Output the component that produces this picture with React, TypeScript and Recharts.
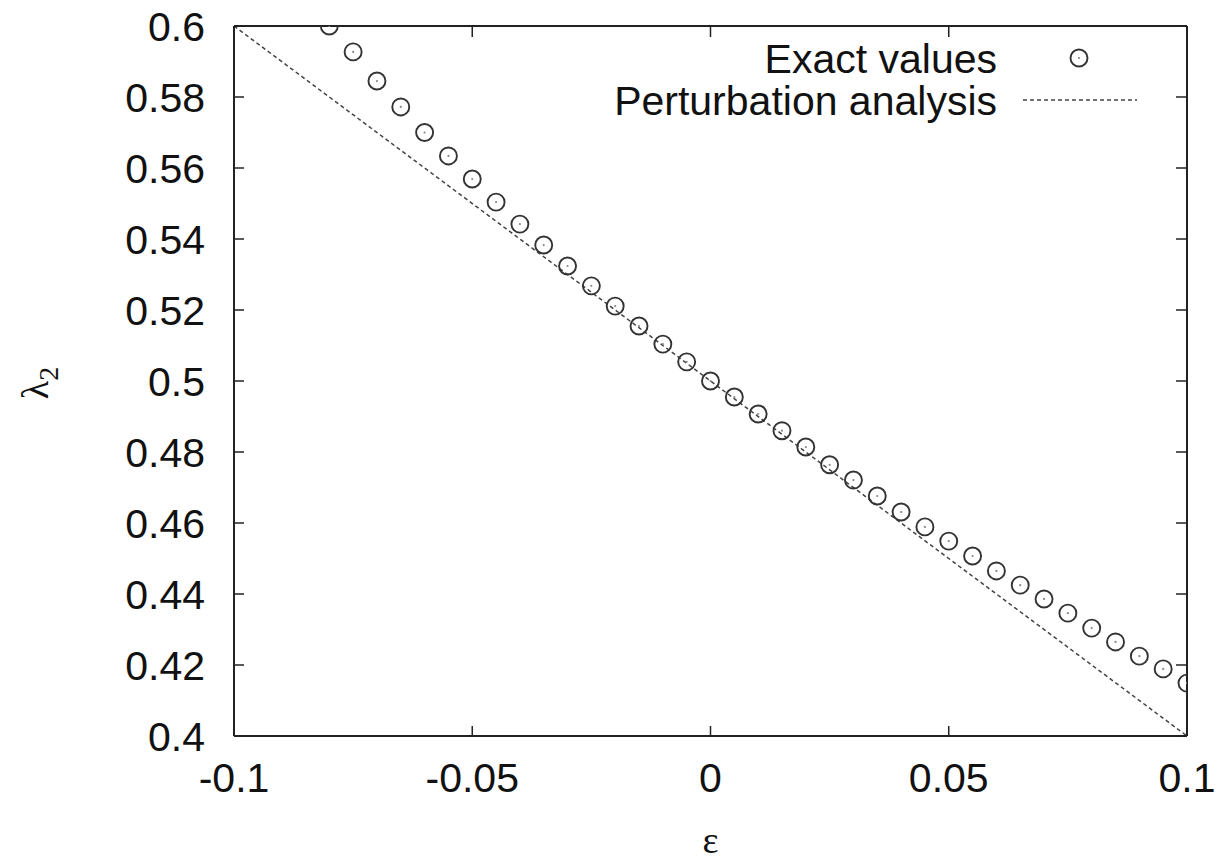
import React from 'react';
import {
  ComposedChart, Line, Scatter, XAxis, YAxis, Legend,
} from 'recharts';

// epsilon values of the exact solution
const epsValues = [
  -0.08, -0.075, -0.07, -0.065, -0.06, -0.055, -0.05, -0.045, -0.04, -0.035,
  -0.03, -0.025, -0.02, -0.015, -0.01, -0.005, 0, 0.005, 0.01, 0.015,
  0.02, 0.025, 0.03, 0.035, 0.04, 0.045, 0.05, 0.055, 0.06, 0.065,
  0.07, 0.075, 0.08, 0.085, 0.09, 0.095, 0.1,
];
const exactValues = [
  0.6, 0.5927, 0.5845, 0.5772, 0.57, 0.5634, 0.5569, 0.5504, 0.5442, 0.5383,
  0.5324, 0.5268, 0.5211, 0.5155, 0.5104, 0.5054, 0.5, 0.4955, 0.4907, 0.486,
  0.4814, 0.4764, 0.4721, 0.4676, 0.4631, 0.4589, 0.4549, 0.4507, 0.4465, 0.4425,
  0.4386, 0.4346, 0.4304, 0.4265, 0.4225, 0.4189, 0.4149,
];
// perturbation analysis line (lambda = 0.5 - eps)
const pertEps = [-0.1, 0, 0.1];
const pertValues = [0.6, 0.5, 0.4];

const xTicks = [-0.1, -0.05, 0, 0.05, 0.1];
const yTicks = [0.4, 0.42, 0.44, 0.46, 0.48, 0.5, 0.52, 0.54, 0.56, 0.58, 0.6];

const FONT = '"Liberation Sans", Arial, Helvetica, sans-serif';
const AXIS = '#222';
const TICK_LEN = 10;

const exactData = epsValues.map((x, i) => ({ x, y: exactValues[i] }));
const pertData = pertEps.map((x, i) => ({ x, y: pertValues[i] }));

const RingDot = (props: any) => {
  const { cx, cy } = props;
  if (cx == null || cy == null) return null;
  return (
    <g>
      <circle cx={cx} cy={cy} r={8.5} fill="none" stroke="#333" strokeWidth={1.9} />
      <circle cx={cx} cy={cy} r={1.1} fill="#888" />
    </g>
  );
};

// ticks are drawn pointing into the plot, gnuplot style
const BottomTick = (p: any) => (
  <g>
    <line x1={p.x} x2={p.x} y1={p.y - 27} y2={p.y - 27 - TICK_LEN} stroke={AXIS} strokeWidth={1.5} />
    <text x={p.x} y={p.y} dy="0.71em" textAnchor="middle" fontSize={41} fill="#111" fontFamily={FONT}>
      {String(p.payload.value)}
    </text>
  </g>
);
const LeftTick = (p: any) => (
  <g>
    <line x1={p.x + 29} x2={p.x + 29 + TICK_LEN} y1={p.y} y2={p.y} stroke={AXIS} strokeWidth={1.5} />
    <text x={p.x} y={p.y} dy="0.355em" textAnchor="end" fontSize={41} fill="#111" fontFamily={FONT}>
      {String(p.payload.value)}
    </text>
  </g>
);
const TopTick = (p: any) => (
  <line x1={p.x} x2={p.x} y1={p.y + 1} y2={p.y + 1 + TICK_LEN} stroke={AXIS} strokeWidth={1.5} />
);
const RightTick = (p: any) => (
  <line x1={p.x - 1} x2={p.x - 1 - TICK_LEN} y1={p.y} y2={p.y} stroke={AXIS} strokeWidth={1.5} />
);

const LegendBox = () => (
  <svg width={600} height={110} style={{ fontFamily: FONT, overflow: 'visible' }}>
    <text x={397} y={43} textAnchor="end" fontSize={41} fill="#111">Exact values</text>
    <circle cx={479} cy={28} r={8.5} fill="none" stroke="#333" strokeWidth={1.9} />
    <circle cx={479} cy={28} r={1.1} fill="#888" />
    <text x={397} y={85} textAnchor="end" fontSize={41} fill="#111">Perturbation analysis</text>
    <line x1={423} y1={70} x2={537} y2={70} stroke="#444" strokeWidth={1.5} strokeDasharray="4 3" />
  </svg>
);

export default function App() {
  return (
    <div style={{ position: 'absolute', left: 0, top: 0, background: '#fff' }}>
      <ComposedChart
        width={1221}
        height={861}
        margin={{ top: 25, right: 33, bottom: 65, left: 34 }}
      >
        <XAxis
          dataKey="x"
          type="number"
          domain={[-0.1, 0.1]}
          ticks={xTicks}
          allowDataOverflow
          height={60}
          axisLine={{ stroke: AXIS, strokeWidth: 2 }}
          tickLine={false}
          tickSize={0}
          tickMargin={27}
          tick={BottomTick}
          label={{
            content: (p: any) => {
              const vb = p.viewBox || {};
              return (
                <text x={vb.x + vb.width / 2} y={vb.y + 117} textAnchor="middle"
                  fontSize={38} fill="#111" fontFamily='"Liberation Serif", serif'>ε</text>
              );
            },
          }}
        />
        <XAxis
          xAxisId="top"
          orientation="top"
          dataKey="x"
          type="number"
          domain={[-0.1, 0.1]}
          ticks={xTicks}
          allowDataOverflow
          height={1}
          axisLine={{ stroke: AXIS, strokeWidth: 2 }}
          tickLine={false}
          tickSize={0}
          tickMargin={0}
          tick={TopTick}
        />
        <YAxis
          type="number"
          domain={[0.4, 0.6]}
          ticks={yTicks}
          allowDataOverflow
          width={200}
          axisLine={{ stroke: AXIS, strokeWidth: 2 }}
          tickLine={false}
          tickSize={0}
          tickMargin={29}
          tick={LeftTick}
          label={{
            content: () => (
              <text x={48} y={383} transform="rotate(-90 48 383)" textAnchor="middle"
                fontSize={38} fill="#111" fontFamily='"Liberation Serif", serif'>
                λ<tspan fontSize={28} dy={10}>2</tspan>
              </text>
            ),
          }}
        />
        <YAxis
          yAxisId="right"
          orientation="right"
          type="number"
          domain={[0.4, 0.6]}
          ticks={yTicks}
          allowDataOverflow
          width={1}
          axisLine={{ stroke: AXIS, strokeWidth: 2 }}
          tickLine={false}
          tickSize={0}
          tickMargin={0}
          tick={RightTick}
        />
        <Legend
          layout="horizontal"
          align="center"
          verticalAlign="middle"
          content={() => <LegendBox />}
          wrapperStyle={{ top: 30, left: 600, width: 600, height: 110 }}
        />
        <Line
          data={pertData}
          dataKey="y"
          type="linear"
          stroke="#444"
          strokeWidth={1.5}
          strokeDasharray="4 3"
          dot={false}
          activeDot={false}
          isAnimationActive={false}
        />
        <Scatter
          data={exactData}
          dataKey="y"
          shape={RingDot}
          isAnimationActive={false}
        />
      </ComposedChart>
    </div>
  );
}
